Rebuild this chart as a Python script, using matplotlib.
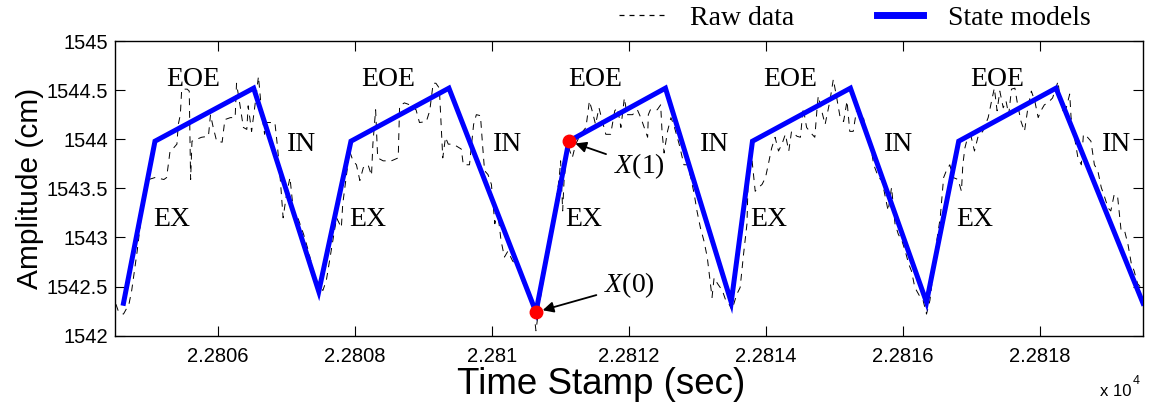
import matplotlib
matplotlib.use("Agg")
import matplotlib.pyplot as plt
from matplotlib.lines import Line2D
from matplotlib.ticker import FuncFormatter

plt.rcParams["mathtext.fontset"] = "custom"
plt.rcParams["mathtext.it"] = "Liberation Serif:italic"
plt.rcParams["mathtext.rm"] = "Liberation Serif"

# Raw respiratory trace (time in s, amplitude in cm)
raw_t = [
    22804.51, 22804.55, 22804.62, 22804.70, 22804.74, 22804.82, 22804.89, 22804.94,
    22804.99, 22805.08, 22805.21, 22805.25, 22805.30, 22805.35, 22805.40, 22805.42,
    22805.45, 22805.47, 22805.55, 22805.58, 22805.60, 22805.62, 22805.69, 22805.76,
    22805.86, 22805.89, 22805.93, 22805.98, 22806.06, 22806.10, 22806.18, 22806.25,
    22806.27, 22806.32, 22806.37, 22806.42, 22806.44, 22806.49, 22806.54, 22806.59,
    22806.64, 22806.68, 22806.71, 22806.83, 22806.87, 22806.91, 22806.95, 22807.00,
    22807.05, 22807.10, 22807.17, 22807.25, 22807.32, 22807.39, 22807.44, 22807.47,
    22807.50, 22807.53, 22807.58, 22807.65, 22807.73, 22807.80, 22807.82, 22807.87,
    22807.92, 22807.97, 22808.02, 22808.07, 22808.12, 22808.19, 22808.24, 22808.26,
    22808.30, 22808.33, 22808.41, 22808.53, 22808.63, 22808.65, 22808.72, 22808.80,
    22808.89, 22808.94, 22809.04, 22809.09, 22809.14, 22809.18, 22809.23, 22809.28,
    22809.32, 22809.36, 22809.40, 22809.48, 22809.55, 22809.58, 22809.67, 22809.73,
    22809.77, 22809.83, 22809.86, 22809.89, 22809.94, 22809.99, 22810.04, 22810.08,
    22810.13, 22810.18, 22810.23, 22810.30, 22810.38, 22810.42, 22810.50, 22810.54,
    22810.59, 22810.64, 22810.69, 22810.74, 22810.78, 22810.83, 22810.88, 22810.93,
    22810.98, 22811.00, 22811.03, 22811.05, 22811.08, 22811.12, 22811.17, 22811.22,
    22811.29, 22811.37, 22811.42, 22811.46, 22811.51, 22811.56, 22811.61, 22811.66,
    22811.73, 22811.79, 22811.83, 22811.88, 22811.93, 22811.97, 22812.05, 22812.12,
    22812.17, 22812.22, 22812.27, 22812.28, 22812.31, 22812.41, 22812.46, 22812.48,
    22812.51, 22812.56, 22812.61, 22812.65, 22812.73, 22812.80, 22812.85, 22812.90,
    22812.95, 22812.99, 22813.04, 22813.09, 22813.14, 22813.21, 22813.24, 22813.29,
    22813.36, 22813.41, 22813.46, 22813.50, 22813.57, 22813.62, 22813.67, 22813.72,
    22813.74, 22813.79, 22813.84, 22813.89, 22813.94, 22813.99, 22814.03, 22814.08,
    22814.13, 22814.18, 22814.23, 22814.28, 22814.33, 22814.37, 22814.45, 22814.50,
    22814.54, 22814.59, 22814.67, 22814.71, 22814.74, 22814.76, 22814.81, 22814.86,
    22814.93, 22814.98, 22815.03, 22815.08, 22815.13, 22815.18, 22815.22, 22815.27,
    22815.32, 22815.37, 22815.42, 22815.47, 22815.52, 22815.57, 22815.64, 22815.69,
    22815.74, 22815.78, 22815.83, 22815.88, 22815.93, 22815.98, 22816.03, 22816.08,
    22816.12, 22816.17, 22816.25, 22816.29, 22816.34, 22816.39, 22816.44, 22816.49,
    22816.54, 22816.59, 22816.63, 22816.68, 22816.73, 22816.80, 22816.85, 22816.87,
    22816.90, 22816.94, 22816.99, 22817.04, 22817.09, 22817.16, 22817.24, 22817.29,
    22817.33, 22817.37, 22817.41, 22817.46, 22817.50, 22817.54, 22817.58, 22817.63,
    22817.67, 22817.72, 22817.77, 22817.82, 22817.87, 22817.92, 22817.97, 22818.01,
    22818.06, 22818.11, 22818.18, 22818.26, 22818.28, 22818.33, 22818.38, 22818.43,
    22818.45, 22818.50, 22818.55, 22818.60, 22818.63, 22818.69, 22818.74, 22818.79,
    22818.84, 22818.89, 22818.94, 22818.99, 22819.03, 22819.08, 22819.13, 22819.18,
    22819.23, 22819.28, 22819.33, 22819.37, 22819.42, 22819.47, 22819.50,
]
raw_v = [
    1542.32, 1542.24, 1542.22, 1542.32, 1542.46, 1542.86, 1543.27, 1543.54,
    1543.59, 1543.61, 1543.59, 1543.61, 1543.88, 1543.91, 1543.95, 1544.15,
    1544.25, 1544.51, 1544.51, 1544.49, 1543.59, 1543.98, 1544.00, 1544.02,
    1544.03, 1544.25, 1544.12, 1543.98, 1543.97, 1544.20, 1544.22, 1544.22,
    1544.57, 1544.35, 1544.12, 1544.10, 1544.34, 1544.08, 1544.35, 1544.64,
    1544.25, 1544.05, 1544.17, 1544.17, 1543.91, 1543.58, 1543.20, 1543.44,
    1543.61, 1543.27, 1543.19, 1543.03, 1542.86, 1542.66, 1542.53, 1542.42,
    1542.49, 1542.46, 1542.56, 1542.86, 1543.20, 1543.10, 1543.34, 1543.61,
    1543.88, 1543.78, 1543.74, 1543.58, 1543.71, 1543.74, 1543.63, 1543.95,
    1544.30, 1543.81, 1543.78, 1543.78, 1543.81, 1544.34, 1544.37, 1544.35,
    1544.30, 1544.17, 1544.18, 1544.29, 1544.57, 1544.57, 1544.52, 1543.81,
    1544.02, 1543.95, 1543.95, 1543.93, 1543.90, 1543.74, 1543.74, 1544.15,
    1544.25, 1544.24, 1543.95, 1543.68, 1543.64, 1543.54, 1543.14, 1543.27,
    1542.97, 1542.80, 1542.86, 1542.76, 1542.70, 1542.59, 1542.46, 1542.46,
    1542.36, 1542.05, 1542.32, 1542.53, 1542.73, 1542.93, 1543.14, 1543.34,
    1543.61, 1543.78, 1543.27, 1543.58, 1543.78, 1543.91, 1543.81, 1543.95,
    1544.05, 1544.12, 1544.39, 1544.29, 1544.15, 1544.32, 1544.18, 1544.05,
    1544.05, 1544.29, 1544.32, 1544.12, 1544.42, 1544.25, 1544.25, 1544.30,
    1544.22, 1544.12, 1544.02, 1544.25, 1544.30, 1544.30, 1544.35, 1544.08,
    1543.86, 1544.08, 1544.22, 1544.15, 1543.95, 1543.74, 1543.74, 1543.61,
    1543.44, 1543.27, 1543.10, 1542.97, 1542.80, 1542.39, 1542.59, 1542.53,
    1542.46, 1542.36, 1542.32, 1542.26, 1542.42, 1542.49, 1542.83, 1543.14,
    1543.68, 1543.81, 1543.47, 1543.51, 1543.54, 1543.61, 1543.74, 1543.91,
    1544.02, 1543.88, 1543.95, 1544.05, 1543.88, 1544.08, 1544.03, 1544.02,
    1544.32, 1544.12, 1544.05, 1544.02, 1544.29, 1544.44, 1544.29, 1544.15,
    1544.39, 1544.61, 1544.42, 1544.22, 1544.18, 1544.39, 1544.08, 1544.08,
    1544.30, 1544.25, 1544.22, 1544.02, 1543.95, 1543.74, 1543.61, 1543.58,
    1543.41, 1543.27, 1543.51, 1543.14, 1543.03, 1542.97, 1542.86, 1542.73,
    1542.66, 1542.49, 1542.39, 1542.36, 1542.22, 1542.36, 1542.66, 1542.97,
    1543.20, 1543.61, 1543.68, 1543.74, 1543.61, 1543.59, 1543.47, 1543.74,
    1543.91, 1544.02, 1544.03, 1543.88, 1544.02, 1544.08, 1544.22, 1544.39,
    1544.52, 1544.29, 1544.49, 1544.32, 1544.39, 1544.25, 1544.51, 1544.52,
    1544.35, 1544.18, 1544.08, 1544.32, 1544.49, 1544.39, 1544.22, 1544.29,
    1544.35, 1544.37, 1544.42, 1544.59, 1544.46, 1544.29, 1544.32, 1544.46,
    1544.22, 1544.02, 1543.81, 1543.74, 1544.05, 1544.02, 1543.98, 1543.74,
    1543.68, 1543.51, 1543.41, 1543.30, 1543.27, 1543.44, 1543.41, 1543.07,
    1543.07, 1542.93, 1542.73, 1542.66, 1542.53, 1542.49, 1542.46,
]

# Piecewise-linear state model vertices (EX -> EOE -> IN per cycle)
model_t = [22804.62, 22805.08, 22806.52, 22807.47, 22807.94, 22809.37,
           22810.64, 22811.12, 22812.53, 22813.49, 22813.80, 22815.23,
           22816.34, 22816.81, 22818.23, 22819.50]
model_v = [1542.33, 1543.98, 1544.52, 1542.45, 1543.98, 1544.52,
           1542.24, 1543.98, 1544.52, 1542.34, 1543.98, 1544.52,
           1542.34, 1543.98, 1544.52, 1542.33]

# Highlighted states X(0) and X(1)
key_t = [22810.64, 22811.12]
key_v = [1542.24, 1543.98]
key_names = ["0", "1"]

# Phase labels for each breathing cycle
phase_names = ["EOE", "IN", "EX"]
eoe_t = [22805.64, 22808.49, 22811.50, 22814.35, 22817.37]
in_t = [22807.22, 22810.23, 22813.24, 22815.93, 22819.11]
ex_t = [22805.33, 22808.18, 22811.34, 22814.04, 22817.05]

xticks = [22806, 22808, 22810, 22812, 22814, 22816, 22818]
yticks = [1542, 1542.5, 1543, 1543.5, 1544, 1544.5, 1545]

sans = ["Liberation Sans", "DejaVu Sans"]
serif = ["Liberation Serif", "DejaVu Serif"]
label_size = 20

fig = plt.figure(figsize=(11.49, 4.04), dpi=100)
ax = fig.add_axes([0.1003, 0.1691, 0.8945, 0.7294])

ax.plot(raw_t, raw_v, color="black", lw=0.7, linestyle=(0, (7, 6)), zorder=2)
ax.plot(model_t, model_v, color="#0000ff", lw=3.6, solid_joinstyle="miter", zorder=3)
ax.plot(key_t, key_v, "o", color="#ff0000", ms=9, zorder=4)

for t in eoe_t:
    ax.text(t, 1544.61, phase_names[0], ha="center", va="center",
            fontsize=label_size, family=serif)
for t in in_t:
    ax.text(t, 1543.95, phase_names[1], ha="center", va="center",
            fontsize=label_size, family=serif)
for t in ex_t:
    ax.text(t, 1543.18, phase_names[2], ha="center", va="center",
            fontsize=label_size, family=serif)

arrow = dict(arrowstyle="-|>", color="black", lw=1.3, mutation_scale=16,
             shrinkA=4, shrinkB=5)
ax.annotate(r"$X$(" + key_names[0] + ")", xy=(key_t[0], key_v[0]),
            xytext=(22811.64, 1542.51), ha="left", va="center", fontsize=label_size,
            family=serif, arrowprops=arrow)
ax.annotate(r"$X$(" + key_names[1] + ")", xy=(key_t[1], key_v[1]),
            xytext=(22811.78, 1543.73), ha="left", va="center", fontsize=label_size,
            family=serif, arrowprops=arrow)

ax.set_xlim(22804.5, 22819.5)
ax.set_ylim(1542, 1545)
ax.set_xticks(xticks)
ax.set_yticks(yticks)
ax.xaxis.set_major_formatter(FuncFormatter(lambda v, p: f"{v / 1e4:.5g}"))
ax.yaxis.set_major_formatter(FuncFormatter(lambda v, p: f"{v:g}"))
ax.tick_params(direction="in", length=7, width=0.8, top=True, right=True,
               labelsize=14.5)
ax.tick_params(axis="x", pad=8)
ax.tick_params(axis="y", pad=5)
for lab in ax.get_xticklabels() + ax.get_yticklabels():
    lab.set_family(sans)
for s in ax.spines.values():
    s.set_linewidth(1.0)

ax.set_xlabel("Time Stamp (sec)", fontsize=26.5, family=sans, labelpad=0)
ax.xaxis.set_label_coords(0.4726, -0.105)
ax.set_ylabel("Amplitude (cm)", fontsize=21.5, family=sans, labelpad=2)

# Axis multiplier note
fig.text(0.9845, 0.030, "x 10", ha="right", va="center", fontsize=12, family=sans)
fig.text(0.9855, 0.058, "4", ha="left", va="center", fontsize=9, family=sans)

handles = [Line2D([], [], color="black", lw=0.9, linestyle=(0, (4, 4))),
           Line2D([], [], color="#0000ff", lw=5)]
fig.legend(handles, ["Raw data", "State models"], loc="center",
           bbox_to_anchor=(0.744, 0.955), ncol=2, frameon=False,
           prop={"family": serif, "size": label_size}, handlelength=1.65,
           handletextpad=0.9, columnspacing=3.0)

fig.savefig("out.png", dpi=100)
